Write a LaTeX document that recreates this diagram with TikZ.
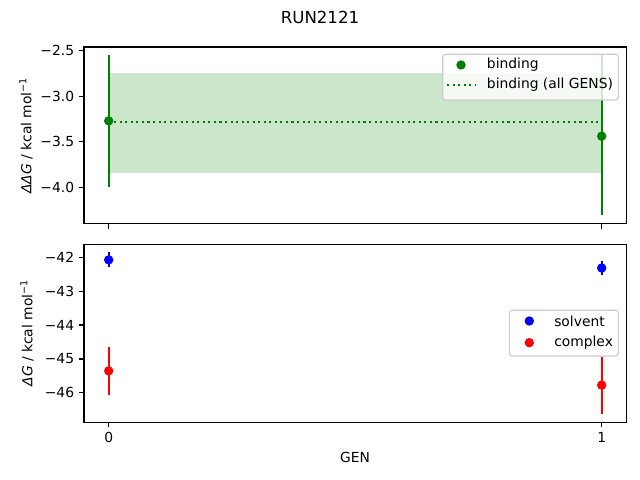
\documentclass[tikz,border=0pt]{standalone}
\usepackage{fontspec}
\setmainfont{DejaVu Sans}
\usepackage{tikz}

\definecolor{mplgreen}{RGB}{0,128,0}
\definecolor{legedge}{RGB}{204,204,204}
\tikzset{
  spine/.style={line width=0.8pt},
  ebar/.style={line width=1.5pt},
  legbox/.style={draw=legedge, fill=white, fill opacity=0.8, line width=0.8pt, rounded corners=2pt},
  ticklab/.style={font=\fontsize{10pt}{12pt}\selectfont, inner sep=0pt},
}

\begin{document}
\begin{tikzpicture}[x=0.01in, y=0.01in]
  \useasboundingbox (0,0) rectangle (640,480);
  % title
  \node[font=\fontsize{12pt}{14pt}\selectfont] (title) at (320,463) {RUN2121};

  % top panel: binding
  \begin{scope}[xshift=1.0864in, yshift=6.562in, x=4.927in, y=0.9087in]
    % band of all GENS
    \fill[mplgreen, opacity=0.2] (0,-3.847) rectangle (1,-2.746);
    \draw[mplgreen, line width=1.5pt, dash pattern=on 1.5pt off 2.5pt] (0,-3.285) -- (1,-3.285);
    % error bars and points
    \draw[mplgreen, ebar] (0,-2.544) -- (0,-3.999);
    \draw[mplgreen, ebar] (1,-2.55) -- (1,-4.31);
    \fill[mplgreen] (0,-3.271) circle (3.4pt);
    \fill[mplgreen] (1,-3.44) circle (3.4pt);
    % axes
    \draw[spine] (-0.05,-4.405) rectangle (1.05,-2.459);
    \foreach \v/\t in {-2.5/−2.5, -3.0/−3.0, -3.5/−3.5, -4.0/−4.0} {
      \draw[spine] (-0.05,\v) -- ++(-3.5pt,0);
      \node[ticklab, anchor=east] at ([xshift=-7pt]-0.05,\v) {\t};
    }
    \foreach \g in {0,1}
      \draw[spine] (\g,-4.405) -- ++(0,-3.5pt);
  \end{scope}

  % bottom panel: solvent and complex
  \begin{scope}[xshift=1.0864in, yshift=16.4776in, x=4.927in, y=0.3393in]
    \draw[blue, ebar] (0,-41.84) -- (0,-42.3);
    \draw[blue, ebar] (1,-42.1) -- (1,-42.54);
    \draw[red, ebar] (0,-44.64) -- (0,-46.06);
    \draw[red, ebar] (1,-44.93) -- (1,-46.61);
    \fill[blue] (0,-42.08) circle (3.4pt);
    \fill[blue] (1,-42.32) circle (3.4pt);
    \fill[red] (0,-45.35) circle (3.4pt);
    \fill[red] (1,-45.77) circle (3.4pt);
    % axes
    \draw[spine] (-0.05,-46.863) rectangle (1.05,-41.617);
    \foreach \v/\t in {-42/−42, -43/−43, -44/−44, -45/−45, -46/−46} {
      \draw[spine] (-0.05,\v) -- ++(-3.5pt,0);
      \node[ticklab, anchor=east] at ([xshift=-7pt]-0.05,\v) {\t};
    }
    \foreach \g in {0,1} {
      \draw[spine] (\g,-46.863) -- ++(0,-3.5pt);
      \node[ticklab, anchor=north] at ([yshift=-7pt]\g,-46.863) {\g};
    }
  \end{scope}

  % axis labels
  \node[ticklab, rotate=90] (ylabtop) at (26,344.4) {\textit{ΔΔG} / kcal mol\textsuperscript{−1}};
  \node[ticklab, rotate=90] (ylabbot) at (27,147) {\textit{ΔG} / kcal mol\textsuperscript{−1}};
  \node[ticklab] (xlab) at (355,23) {GEN};

  % legend top
  \draw[legbox] (442.7,380) rectangle (618.3,425.7);
  \fill[mplgreen] (461,415) circle (3.4pt);
  \node[ticklab, anchor=west] (legbind) at (486.7,415) {binding};
  \draw[mplgreen, line width=1.5pt, dash pattern=on 1.5pt off 2.5pt] (447,395) -- (475,395);
  \node[ticklab, anchor=west] (legall) at (486.7,395) {binding (all GENS)};

  % legend bottom
  \draw[legbox] (509.3,124) rectangle (618.3,169.7);
  \fill[blue] (529.3,159) circle (3.4pt);
  \node[ticklab, anchor=west] (legsolv) at (554,159) {solvent};
  \fill[red] (529.3,137.3) circle (3.4pt);
  \node[ticklab, anchor=west] (legcplx) at (554,137.3) {complex};
\end{tikzpicture}
\end{document}
